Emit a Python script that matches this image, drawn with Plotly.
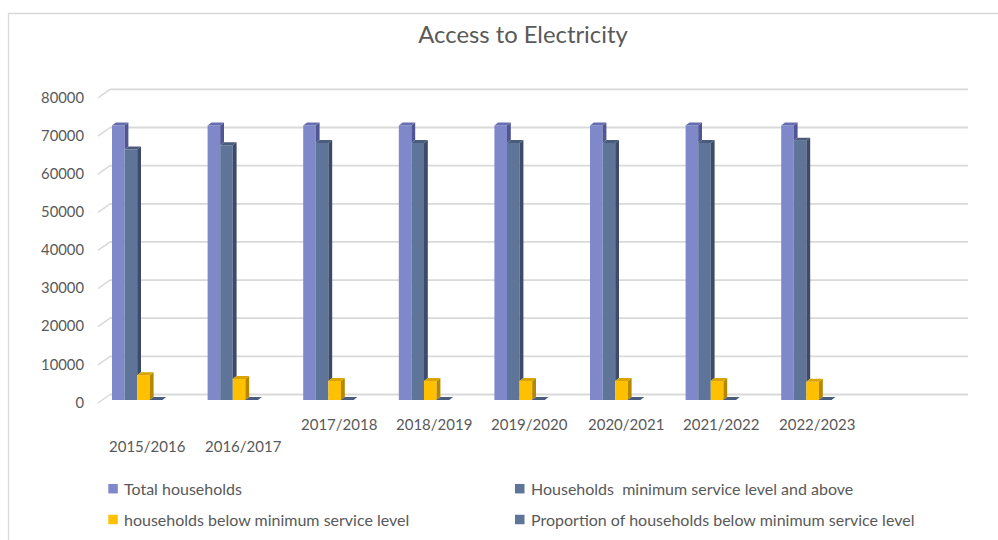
import plotly.graph_objects as go

# ---- data -------------------------------------------------------------
categories = ["2015/2016", "2016/2017", "2017/2018", "2018/2019",
              "2019/2020", "2020/2021", "2021/2022", "2022/2023"]

total_households = [72000, 72000, 72000, 72000, 72000, 72000, 72000, 72000]
households_min_and_above = [65700, 66800, 67400, 67400, 67400, 67400, 67400, 68000]
households_below_min = [6500, 5500, 5000, 5000, 5000, 5000, 5000, 4800]
proportion_below_min = [9.0, 7.6, 6.9, 6.9, 6.9, 6.9, 6.9, 6.7]

series_names = ["Total households",
                "Households  minimum service level and above",
                "households below minimum service level",
                "Proportion of households below minimum service level"]

y_ticks = [0, 10000, 20000, 30000, 40000, 50000, 60000, 70000, 80000]

# ---- styling ----------------------------------------------------------
FONT = "Lato"
TXT = "#595959"
GRID = "#d9d9d9"
front_colors = ["#7F88C8", "#5F7499", "#FFC000", "#5F7499"]
side_colors = ["#4F5693", "#3C4B69", "#B58800", "#3C4B69"]
cap_colors = ["#666EB0", "#4A5B7C", "#D9A400", "#4A5C80"]

# ---- geometry (pixels) ------------------------------------------------
W, H = 998, 540
L, R, T, B = 88, 20, 60, 110
PW, PH = W - L - R, H - T - B
CAT_PX = 95.6          # width of one category slot
X0_PX = 147.5          # pixel centre of the first category
Y0_PX = 400.0          # pixel row of value 0 for the bars
PXU = 38.14 / 10000    # pixels per unit on the value axis
BAR_W_PX = 12.6
BAR_OFF_PX = -35.5
DEPTH_X_PX, DEPTH_Y_PX = 3.8, 3.0      # oblique depth of each column
WALL_X_PX, WALL_Y_PX = 12.0, 8.5       # front floor edge -> back wall


def xd(px):
    return (px - X0_PX) / CAT_PX


def yd(py):
    return (Y0_PX - py) / PXU


def xp(px):
    return (px - L) / PW


def yp(py):
    return (H - B - py) / PH


series = [total_households, households_min_and_above,
          households_below_min, proportion_below_min]
n = len(categories)
bw = BAR_W_PX / CAT_PX
ddx = DEPTH_X_PX / CAT_PX
ddy = DEPTH_Y_PX / PXU

fig = go.Figure()

# front faces of the columns
for k, vals in enumerate(series):
    fig.add_trace(go.Bar(
        x=list(range(n)), y=vals, width=bw,
        offset=(BAR_OFF_PX + k * BAR_W_PX) / CAT_PX,
        marker=dict(color=front_colors[k], line=dict(width=0)),
        name=series_names[k], showlegend=False, hoverinfo="skip"))

# side and top faces, drawn after the fronts
for k, vals in enumerate(series):
    sx, sy, cx, cy = [], [], [], []
    for i, v in enumerate(vals):
        xl = i + (BAR_OFF_PX + k * BAR_W_PX) / CAT_PX
        xr = xl + bw
        lo = min(series[k + 1][i], v) if k + 1 < len(series) else 0
        if v > lo:
            sx += [xr, xr + ddx, xr + ddx, xr, xr, None]
            sy += [lo, lo + ddy, v + ddy, v, lo, None]
        cx += [xl, xr, xr + ddx, xl + ddx, xl, None]
        cy += [v, v, v + ddy, v + ddy, v, None]
    for xs, ys, col in ((sx, sy, side_colors[k]), (cx, cy, cap_colors[k])):
        fig.add_trace(go.Scatter(
            x=xs, y=ys, mode="lines", fill="toself", fillcolor=col,
            line=dict(width=0, color=col), showlegend=False,
            hoverinfo="skip"))

shapes = []
# back-wall gridlines with the short floor connectors on the left
for v in y_ticks:
    front_py = Y0_PX - v * PXU + 3.0
    back_py = front_py - WALL_Y_PX
    shapes.append(dict(type="line", layer="below", xref="x", yref="y",
                       x0=xd(98), x1=xd(98 + WALL_X_PX),
                       y0=yd(front_py), y1=yd(back_py),
                       line=dict(color=GRID, width=1.5)))
    shapes.append(dict(type="line", layer="below", xref="x", yref="y",
                       x0=xd(98 + WALL_X_PX), x1=xd(968),
                       y0=yd(back_py), y1=yd(back_py),
                       line=dict(color=GRID, width=1.8)))

# chart frame
shapes.append(dict(type="rect", xref="paper", yref="paper",
                   x0=xp(8.5), x1=xp(1010), y0=yp(13.5), y1=yp(560),
                   line=dict(color=GRID, width=1.3), fillcolor="rgba(0,0,0,0)"))

annotations = []
# category labels (the first two sit one row lower)
for i, c in enumerate(categories):
    annotations.append(dict(x=i, xref="x", y=yp(446 if i < 2 else 424),
                            yref="paper", text=c, showarrow=False,
                            xanchor="center", yanchor="middle",
                            font=dict(family=FONT, size=15, color=TXT)))

# legend
legend_pos = [(108.3, 488.7), (515.0, 488.7), (108.3, 519.5), (515.0, 519.5)]
SQ = 9.5
for k, (lx, ly) in enumerate(legend_pos):
    shapes.append(dict(type="rect", xref="paper", yref="paper",
                       x0=xp(lx), x1=xp(lx + SQ),
                       y0=yp(ly + SQ / 2), y1=yp(ly - SQ / 2),
                       line=dict(width=0), fillcolor=front_colors[k]))
    annotations.append(dict(x=xp(lx + SQ + 4.0), xref="paper", y=yp(ly),
                            yref="paper",
                            text=series_names[k].replace("  ", " \u00a0"),
                            showarrow=False, xanchor="left",
                            yanchor="middle",
                            font=dict(family=FONT, size=16, color=TXT)))

fig.update_layout(
    width=W, height=H,
    margin=dict(l=L, r=R, t=T, b=B),
    paper_bgcolor="white", plot_bgcolor="white",
    barmode="overlay",
    title=dict(text="Access to Electricity", x=523 / W, xanchor="center",
               y=1 - 35 / H, yanchor="middle",
               font=dict(family=FONT, size=23.8, color=TXT)),
    xaxis=dict(range=[xd(L), xd(W - R)], showgrid=False, zeroline=False,
               showticklabels=False, showline=False, fixedrange=True),
    yaxis=dict(range=[yd(H - B), yd(T)], showgrid=False, zeroline=False,
               showline=False, ticks="",
               tickvals=[v - 2.5 / PXU for v in y_ticks],
               ticktext=[str(v) for v in y_ticks],
               ticklabelstandoff=3,
               tickfont=dict(family=FONT, size=14.8, color=TXT),
               fixedrange=True),
    shapes=shapes,
    annotations=annotations,
    showlegend=False,
)

fig.write_html("out.html")
